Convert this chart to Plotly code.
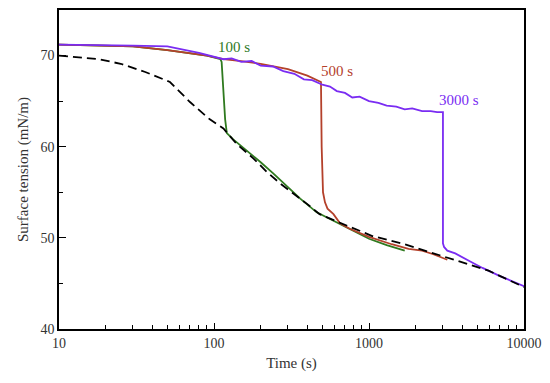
import plotly.graph_objects as go
import math

# Reference (dashed) curve
time_ref = [10, 18, 25, 36, 52, 70, 94, 115, 140, 180, 220, 270, 400, 480, 620, 800, 1050, 1700, 3200, 5900, 10000]
tension_ref = [70.0, 69.6, 69.1, 68.2, 67.1, 64.9, 63.0, 62.0, 60.3, 58.7, 57.2, 55.9, 53.7, 52.6, 51.8, 51.0, 50.2, 49.3, 47.8, 46.4, 44.6]

# 100 s curve (green)
time_100 = [10, 20, 30, 50, 70, 90, 110, 112, 118, 121, 133, 163, 200, 240, 300, 360, 460, 650, 750, 1000, 1300, 1700]
tension_100 = [71.2, 71.1, 71.0, 70.6, 70.3, 70.0, 69.6, 69.3, 63.0, 61.5, 60.8, 59.6, 58.3, 57.1, 55.6, 54.3, 52.8, 51.5, 51.0, 49.9, 49.2, 48.6]

# 500 s curve (brown-red)
time_500 = [10, 20, 30, 50, 70, 90, 115, 150, 200, 300, 400, 490, 495, 505, 520, 540, 590, 650, 750, 1000, 1400, 1800, 2200, 2600, 3200]
tension_500 = [71.2, 71.1, 71.0, 70.6, 70.3, 70.0, 69.6, 69.4, 69.1, 68.5, 67.8, 67.1, 60.0, 55.0, 53.9, 53.2, 52.6, 51.6, 51.0, 50.1, 49.3, 48.8, 48.6, 48.2, 47.6]

# 3000 s curve (purple)
time_3000 = [10, 20, 30, 50, 80, 115, 130, 150, 175, 200, 240, 280, 330, 380, 430, 500, 560, 620, 700, 780, 870,
             1000, 1150, 1300, 1500, 1700, 1900, 2200, 2500, 2750, 3000, 3000, 3050, 3200, 3600, 4500, 5400, 7000, 10000]
tension_3000 = [71.2, 71.15, 71.1, 71.0, 70.3, 69.6, 69.7, 69.3, 69.4, 68.9, 68.8, 68.3, 68.0, 67.4, 67.3, 66.8, 66.6, 66.1, 65.9, 65.4, 65.5,
                65.0, 64.8, 64.5, 64.4, 64.1, 64.2, 63.9, 63.9, 63.8, 63.8, 49.4, 49.0, 48.6, 48.3, 47.4, 46.7, 45.8, 44.7]

x_major = [10, 100, 1000, 10000]
x_minor = [m * d for d in (10, 100, 1000) for m in range(2, 10)]

green = "#2f7a1f"
brown = "#b4412b"
purple = "#7a2cf2"
font_family = "Liberation Serif, Times New Roman, serif"

fig = go.Figure()
fig.add_trace(go.Scatter(x=time_100, y=tension_100, mode="lines", line=dict(color=green, width=1.8), showlegend=False))
fig.add_trace(go.Scatter(x=time_500, y=tension_500, mode="lines", line=dict(color=brown, width=1.8), showlegend=False))
fig.add_trace(go.Scatter(x=time_3000, y=tension_3000, mode="lines", line=dict(color=purple, width=1.8), showlegend=False))
fig.add_trace(go.Scatter(x=time_ref, y=tension_ref, mode="lines", line=dict(color="black", width=1.8, dash="9px,5px"), showlegend=False))

labels = [("100 s", 135, 70.9, green), ("500 s", 622, 68.3, brown), ("3000 s", 3810, 65.1, purple)]
for text, xv, yv, col in labels:
    fig.add_annotation(x=math.log10(xv), y=yv, text=text, showarrow=False,
                       font=dict(family=font_family, size=15, color=col))

fig.update_layout(
    width=542, height=375,
    margin=dict(l=51, r=26, t=0, b=54),
    paper_bgcolor="white", plot_bgcolor="white",
    font=dict(family=font_family, size=14, color="#333"),
    xaxis=dict(type="log", range=[1, 4], tickvals=x_major, ticktext=[str(v) for v in x_major],
               ticks="inside", ticklen=6, tickwidth=1.3, tickcolor="black",
               showline=True, linecolor="black", linewidth=1.5, mirror=True,
               showgrid=False, zeroline=False,
               minor=dict(tickvals=x_minor, ticks="inside", ticklen=4, tickwidth=1.2, tickcolor="black", showgrid=False),
               title=dict(text="Time (s)", font=dict(family=font_family, size=15, color="#333"), standoff=8)),
    yaxis=dict(range=[40, 75], tickvals=[40, 50, 60, 70],
               ticks="inside", ticklen=7, tickwidth=1.3, tickcolor="black",
               showline=True, linecolor="black", linewidth=1.5, mirror=True,
               showgrid=False, zeroline=False,
               minor=dict(tickvals=[45, 55, 65], ticks="inside", ticklen=4, tickwidth=1.2, tickcolor="black", showgrid=False),
               title=dict(text="Surface tension (mN/m)", font=dict(family=font_family, size=15, color="#333"), standoff=8)),
)

fig.write_html("out.html")
